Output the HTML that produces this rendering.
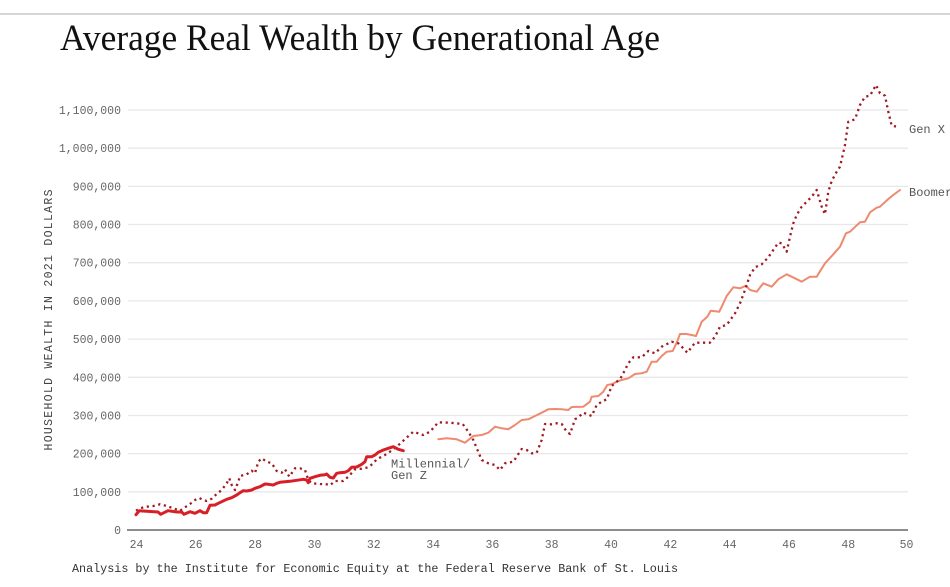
<!DOCTYPE html>
<html>
<head>
<meta charset="utf-8">
<style>
  html, body { margin: 0; padding: 0; background: #ffffff; }
  body { width: 950px; height: 587px; overflow: hidden; }
  svg { display: block; }
  .mono { font-family: "Liberation Mono", "DejaVu Sans Mono", monospace; }
</style>
</head>
<body>
<svg width="950" height="587" viewBox="0 0 950 587" xmlns="http://www.w3.org/2000/svg">
  <rect width="950" height="587" fill="#ffffff"/>
  <line x1="0" y1="14" x2="950" y2="14" stroke="#c8c8c8" stroke-width="1.5"/>

  <text x="60" y="50" font-family="Liberation Serif, serif" font-size="37" fill="#111" textLength="600" lengthAdjust="spacingAndGlyphs">Average Real Wealth by Generational Age</text>

  <!-- gridlines -->
  <g stroke="#e8e8e8" stroke-width="1.3">
    <line x1="128" y1="110" x2="908" y2="110"/>
    <line x1="128" y1="148.2" x2="908" y2="148.2"/>
    <line x1="128" y1="186.4" x2="908" y2="186.4"/>
    <line x1="128" y1="224.5" x2="908" y2="224.5"/>
    <line x1="128" y1="262.7" x2="908" y2="262.7"/>
    <line x1="128" y1="300.9" x2="908" y2="300.9"/>
    <line x1="128" y1="339.1" x2="908" y2="339.1"/>
    <line x1="128" y1="377.3" x2="908" y2="377.3"/>
    <line x1="128" y1="415.5" x2="908" y2="415.5"/>
    <line x1="128" y1="453.6" x2="908" y2="453.6"/>
    <line x1="128" y1="491.8" x2="908" y2="491.8"/>
  </g>
  <line x1="127" y1="530" x2="908" y2="530" stroke="#666" stroke-width="1.5"/>

  <!-- y tick labels -->
  <g class="mono" font-size="11.5" fill="#666" text-anchor="end">
    <text x="121" y="114">1,100,000</text>
    <text x="121" y="152.2">1,000,000</text>
    <text x="121" y="190.4">900,000</text>
    <text x="121" y="228.5">800,000</text>
    <text x="121" y="266.7">700,000</text>
    <text x="121" y="304.9">600,000</text>
    <text x="121" y="343.1">500,000</text>
    <text x="121" y="381.3">400,000</text>
    <text x="121" y="419.5">300,000</text>
    <text x="121" y="457.6">200,000</text>
    <text x="121" y="495.8">100,000</text>
    <text x="121" y="534">0</text>
  </g>

  <text class="mono" transform="translate(52,320) rotate(-90)" font-size="11.5" fill="#444" text-anchor="middle" textLength="261" lengthAdjust="spacing">HOUSEHOLD WEALTH IN 2021 DOLLARS</text>

  <!-- x tick labels -->
  <g class="mono" font-size="11.5" fill="#666" text-anchor="middle">
    <text x="136.5" y="548">24</text>
    <text x="195.8" y="548">26</text>
    <text x="255.1" y="548">28</text>
    <text x="314.5" y="548">30</text>
    <text x="373.8" y="548">32</text>
    <text x="433.1" y="548">34</text>
    <text x="492.4" y="548">36</text>
    <text x="551.7" y="548">38</text>
    <text x="611" y="548">40</text>
    <text x="670.4" y="548">42</text>
    <text x="729.7" y="548">44</text>
    <text x="789" y="548">46</text>
    <text x="848.3" y="548">48</text>
    <text x="906.5" y="548">50</text>
  </g>

  <text class="mono" x="72" y="572" font-size="11.75" fill="#333" textLength="606" lengthAdjust="spacing">Analysis by the Institute for Economic Equity at the Federal Reserve Bank of St. Louis</text>

  <!-- Boomer -->
  <polyline fill="none" stroke="#ee8a70" stroke-width="2" stroke-linejoin="round" stroke-linecap="round"
    points="438.3,439.3 446.7,438.3 456.7,439.3 465,442.7 473.3,436 481.7,435 488.3,432.7 495,426.7 501.7,428.3 508.3,429.3 515,425 521.7,420 528.3,419.3 535,416 541.7,412.7 548.3,409.3 555,409 561.7,409.3 568.3,410 571.7,407 583.3,406.7 590,401.7 591.7,396.7 598.3,396 603.3,391.7 607.3,385 611.7,384.3 616.7,381.7 621.7,380 628.3,378.3 635,374 641.7,373.3 646.7,371.7 651.7,361.7 656.7,361.7 661.7,356 666.7,351.7 672.7,351 676.7,342.7 680,334 686.7,334 696,336 701.7,321.7 707.3,316.7 710.7,310.7 719.3,311.7 721.7,306.7 726.7,296 733.3,287.3 740,288.3 746,285.7 750,290 756.7,291.7 763.3,283.3 771.7,286.7 778.3,279.3 786.7,274.3 795,278.3 801.7,281.7 810,276.7 816.7,276.7 825,263.3 833.3,254.3 840,246.7 846,233.3 850,231.7 860,222.3 865,221.7 870,212.3 876.7,207.7 880,206.7 888.3,199 893.3,195 900,190"/>

  <!-- Gen X (dotted) -->
  <polyline fill="none" stroke="#a11a22" stroke-width="2.3" stroke-dasharray="2.2 3.6" stroke-linejoin="round"
    points="136,510.7 140,508.3 146.7,506.7 153.3,506 160,504.3 166.7,506 173.3,508.3 180,510.7 185,507.3 190,504 195,500 199.3,498 203.3,500 206.7,501 211.7,498.7 216.7,494 221.7,490 226.7,483.3 229.3,478.3 231.7,485 235,490 238.3,481.7 240,476 246.7,474.3 251.7,470.7 255,473.3 258.3,461.7 261.7,458.3 266.7,461.7 271.7,463.3 276.7,471 281.7,472.7 285,469.3 289.3,476.7 295,468.3 300,468.3 305,470 308.3,480 311.7,483.3 320,484 326.7,484.3 330,485.3 335,481 343.3,481 348.3,476.7 355,469.3 361.7,468.7 368.3,467.3 373.3,463.3 376.7,459.3 383.3,456 390,451.7 396.7,446.7 403.3,440.7 413.3,431.7 423.3,435 430,431.7 438.3,422.3 450,422.7 462.7,424 468.3,431.7 473.3,440 481.7,460 488.3,463.3 495,465 500,470 505,463.3 513.3,461.7 521.7,449 526.7,450 531.7,453.3 536.7,452.7 541.7,440 545,424 551.7,424.3 556.7,423.3 561.7,424 566.7,431.7 570,434 575,419.3 578.3,417.3 583.3,412.7 586.7,414 591.7,416 596.7,405 601.7,401.7 606.7,399.3 611.7,386 616.7,381.7 620,379.3 625,370 628.3,363.3 633.3,357.3 641.7,357.3 648.3,351 655,353.3 661.7,346.7 671.7,341.7 678.3,343.3 683.3,348.3 687.3,352.7 695,342.7 710,342.7 715,336.7 720,326.7 726.7,325 735,313.3 740,303.3 745,290 750,275 755,267.3 761.7,264.3 768.3,257.3 773.3,250 778.3,242.7 781.7,243.3 786.7,251.7 790,236.7 793.3,223.3 796.7,215 801.7,206.7 806.7,201.7 811.7,196.7 816.7,190 821.7,206.7 825,214.3 828.3,191.7 831.7,181 836.7,171.7 840,166.7 845,145 848.3,121.7 855,119.3 860,105 865,96.7 870,95.7 876,85 880,93.3 885,95.7 888.3,111.7 891.7,125.7 897,126.7"/>

  <!-- Millennial / Gen Z -->
  <polyline fill="none" stroke="#d81e26" stroke-width="3" stroke-linejoin="round" stroke-linecap="round"
    points="136,514.7 139.3,510.7 158,512 160.7,514.3 168,510.7 176.7,512 181.7,512 184,514.3 190,511.7 195,513.3 200,510.7 203.3,512.7 206.7,512.7 210,505.3 215,505 218.3,503.3 221.7,501.7 226.7,499.3 231.7,497.7 236.7,495 240,492.7 243.3,490.7 246.7,491 251.7,490 255,488.3 260,486.7 265,484 268.3,484.3 273.3,485 276.7,483.3 280,482.3 285,481.7 290,481.3 296.7,480.3 303.3,479.3 306.7,480 308.3,482.7 310,478.3 315,476.7 320,475.3 325,474.7 326.7,474 330,477.3 333.3,478 336.7,473.3 340,472.7 345,472.3 348.3,470.7 351.7,467.3 356.7,467 361.7,464.3 365,461.7 366.7,456.7 371.7,456.7 375,455 378.3,452.3 383.3,450 388.3,448.3 393.3,446.7 398.3,449.3 403.3,450.7"/>

  <!-- series labels -->
  <g class="mono" font-size="12" fill="#555">
    <text x="391" y="467.5">Millennial/</text>
    <text x="391" y="479">Gen Z</text>
    <text x="909" y="133">Gen X</text>
    <text x="909" y="196">Boomer</text>
  </g>
</svg>
</body>
</html>
